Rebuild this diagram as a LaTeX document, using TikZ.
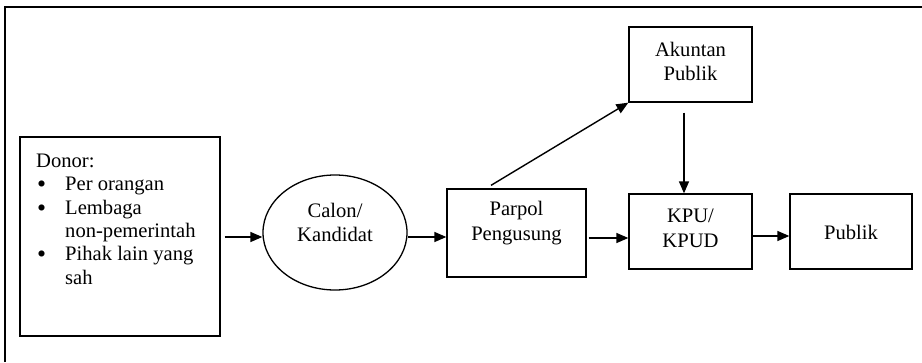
\documentclass[tikz,border=0pt]{standalone}
\usepackage{fontspec}
\setmainfont{Liberation Serif}
\usetikzlibrary{arrows.meta,shapes.geometric,calc}
\newcommand{\bigbul}{\smash{\raisebox{-1.8pt}{\scalebox{1.25}{\textbullet}}}}
\begin{document}
\begin{tikzpicture}[x=1pt,y=-1pt,
  every node/.style={font=\fontsize{20.6pt}{24.5pt}\selectfont},
  box/.style={draw,line width=1.3pt,rectangle,inner sep=0pt},
  oval/.style={draw,line width=1.3pt,ellipse,inner sep=0pt},
  txt/.style={align=center,inner sep=0pt},
  arr/.style={line width=1.4pt,-{Triangle[length=12pt,width=10pt]}}]
\useasboundingbox (0,0) rectangle (922,362);
\draw[line width=1.4pt] (5,362) -- (5,7) -- (922,7);
% boxes
\node[box,minimum width=200pt,minimum height=199pt] (donor) at (120,236.5) {};
\node[oval,minimum width=144pt,minimum height=115pt] (calon) at (335,232.5) {};
\node[box,minimum width=139pt,minimum height=88pt] (parpol) at (516.5,233) {};
\node[box,minimum width=123pt,minimum height=75pt] (akuntan) at (690.5,64.5) {};
\node[box,minimum width=123pt,minimum height=75pt] (kpu) at (690.5,231.5) {};
\node[box,minimum width=122pt,minimum height=75pt] (publik) at (851,231.5) {};
% texts
\node[anchor=north west,align=left,inner sep=0pt,font=\fontsize{20.6pt}{23.3pt}\selectfont] (donortxt) at (36,154)
  {Donor:\\
   \makebox[29pt][l]{\hspace{1pt}\bigbul}Per orangan\\
   \makebox[29pt][l]{\hspace{1pt}\bigbul}Lembaga\\
   \makebox[29pt][l]{}non-pemerintah\\
   \makebox[29pt][l]{\hspace{1pt}\bigbul}Pihak lain yang\\
   \makebox[29pt][l]{}sah};
\node[txt] (calontxt) at (335,222.5) {Calon/\\Kandidat};
\node[txt] (parpoltxt) at (516.5,223) {Parpol\\Pengusung};
\node[txt] (akuntantxt) at (690.5,61.5) {Akuntan\\Publik};
\node[txt] (kputxt) at (690.5,228.5) {KPU/\\KPUD};
\node[txt] (publiktxt) at (851,232) {Publik};
% arrows
\draw[arr] ([xshift=4pt,yshift=-0.5pt]donor.east) -- ([yshift=-0.5pt]donor.east -| calon.west);
\draw[arr] ([yshift=-4.5pt]calon.east) -- ([yshift=-4.5pt]calon.east -| parpol.west);
\draw[arr] ([xshift=2pt,yshift=-5pt]parpol.east) -- ([yshift=-5pt]parpol.east -| kpu.west);
\draw[arr] ([yshift=-4.5pt]kpu.east) -- ([yshift=-4.5pt]kpu.east -| publik.west);
\draw[arr] ([xshift=-6.5pt,yshift=-10pt]akuntan.south) -- ([xshift=-6.5pt]kpu.north);
\draw[arr] ([xshift=-25.5pt,yshift=3pt]parpol.north) -- (akuntan.south west);
\end{tikzpicture}
\end{document}
